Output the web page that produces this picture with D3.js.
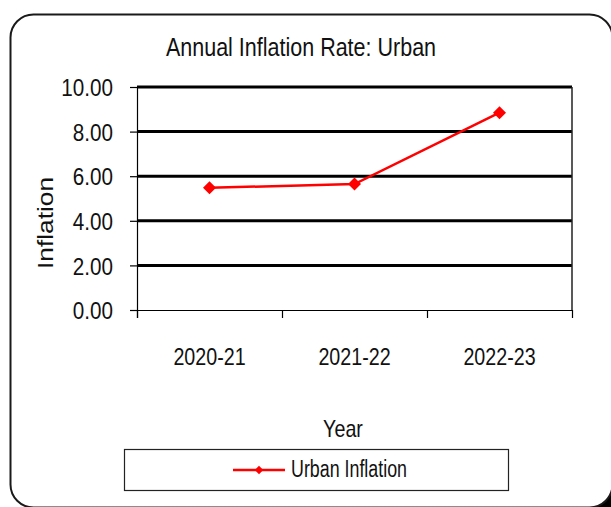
<!DOCTYPE html>
<html><head><meta charset="utf-8">
<script src="https://cdn.jsdelivr.net/npm/d3@7"></script>
<style>body{margin:0;background:#fff}svg{display:block}text{font-family:"Liberation Sans",Arial,sans-serif;fill:#111}</style>
</head><body>
<svg id="c" width="611" height="507"></svg>
<script>
const categories = ["2020-21","2021-22","2022-23"];
const urbanInflation = [5.48, 5.65, 8.85];
const yTicks = [0, 2, 4, 6, 8, 10];
const seriesName = "Urban Inflation";
const titleText = "Annual Inflation Rate: Urban";
const xTitle = "Year", yTitle = "Inflation";

const svg = d3.select("#c");
const W = 611, H = 507;
const m = {left:137, right:572, top:87, bottom:310};

// narrow text helper
function narrow(sel, ratio){
  sel.each(function(){
    const L = this.getComputedTextLength();
    d3.select(this).attr("textLength", L*ratio).attr("lengthAdjust","spacingAndGlyphs");
  });
}

// background corner + frame
svg.append("rect").attr("x",585).attr("y",478).attr("width",30).attr("height",32).attr("fill","#000");
svg.append("rect").attr("x",10.5).attr("y",14.5).attr("width",602).attr("height",493)
  .attr("rx",23).attr("fill","#fff").attr("stroke","#1a1a1a").attr("stroke-width",2);

const x = d3.scaleBand().domain(categories).range([m.left, m.right]);
const y = d3.scaleLinear().domain([0,10]).range([m.bottom, m.top]);

// gridlines
svg.append("g").selectAll("line").data(yTicks.filter(d=>d>0)).join("line")
  .attr("x1",m.left).attr("x2",m.right).attr("y1",d=>y(d)).attr("y2",d=>y(d))
  .attr("stroke","#000").attr("stroke-width",3);
// right border
svg.append("line").attr("x1",m.right).attr("x2",m.right).attr("y1",m.top).attr("y2",m.bottom)
  .attr("stroke","#222").attr("stroke-width",1.5);

// y axis
const ya = svg.append("g").attr("transform",`translate(${m.left},0)`)
  .call(d3.axisLeft(y).tickValues(yTicks).tickSize(7).tickSizeOuter(0).tickPadding(17).tickFormat(d3.format(".2f")));
ya.select(".domain").attr("stroke","#000").attr("stroke-width",1.2).attr("d",`M0.5,${m.top}V${m.bottom+8}`);
ya.selectAll(".tick line").attr("stroke","#000").attr("stroke-width",1.2);
ya.selectAll(".tick text").attr("font-size",24).attr("font-family","Liberation Sans, Arial, sans-serif").attr("fill","#111").attr("dy","0.36em");
narrow(ya.selectAll(".tick text"), 0.86);

// x axis
const bounds = categories.map(c=>x(c)).concat([m.right]);
svg.append("line").attr("x1",m.left-7).attr("x2",m.right).attr("y1",m.bottom+0.5).attr("y2",m.bottom+0.5)
  .attr("stroke","#000").attr("stroke-width",1.2);
svg.append("g").selectAll("line").data(bounds).join("line")
  .attr("x1",d=>d+0.5).attr("x2",d=>d+0.5).attr("y1",m.bottom).attr("y2",m.bottom+8)
  .attr("stroke","#000").attr("stroke-width",1.2);
const xl = svg.append("g").selectAll("text").data(categories).join("text")
  .attr("x",d=>x(d)+x.bandwidth()/2).attr("y",365).attr("text-anchor","middle")
  .attr("font-size",24).text(d=>d);
narrow(xl, 0.82);

// line
const line = d3.line().x((d,i)=>x(categories[i])+x.bandwidth()/2).y(d=>y(d));
svg.append("path").datum(urbanInflation).attr("d",line).attr("fill","none")
  .attr("stroke","#ff0000").attr("stroke-width",2.5);
const diamond = d3.symbol().type(d3.symbolDiamond2);
svg.append("g").selectAll("path").data(urbanInflation).join("path")
  .attr("transform",(d,i)=>`translate(${x(categories[i])+x.bandwidth()/2},${y(d)})`)
  .attr("d",d3.symbol().type(d3.symbolSquare).size(85)).attr("transform",(d,i)=>`translate(${x(categories[i])+x.bandwidth()/2},${y(d)}) rotate(45)`)
  .attr("fill","#ff0000");

// title
const t = svg.append("text").attr("x",301).attr("y",56).attr("text-anchor","middle").attr("font-size",25).text(titleText);
narrow(t, 0.86);
// axis titles
const xt = svg.append("text").attr("x",343).attr("y",437).attr("text-anchor","middle").attr("font-size",24).text(xTitle);
narrow(xt, 0.82);
const yt = svg.append("text").attr("transform","translate(53,223) rotate(-90)").attr("text-anchor","middle")
  .attr("font-size",22).text(yTitle);
yt.attr("textLength",92).attr("lengthAdjust","spacingAndGlyphs");

// legend
svg.append("rect").attr("x",124.5).attr("y",449.5).attr("width",384).attr("height",41)
  .attr("fill","#fff").attr("stroke","#222").attr("stroke-width",1.2);
svg.append("line").attr("x1",233).attr("x2",285).attr("y1",470).attr("y2",470).attr("stroke","#ff0000").attr("stroke-width",2.5);
svg.append("path").attr("d",d3.symbol().type(d3.symbolSquare).size(36)).attr("transform","translate(259,470) rotate(45)").attr("fill","#ff0000");
const lt = svg.append("text").attr("x",291).attr("y",477).attr("font-size",23).text(seriesName);
lt.attr("textLength",116).attr("lengthAdjust","spacingAndGlyphs");
</script>
</body></html>
